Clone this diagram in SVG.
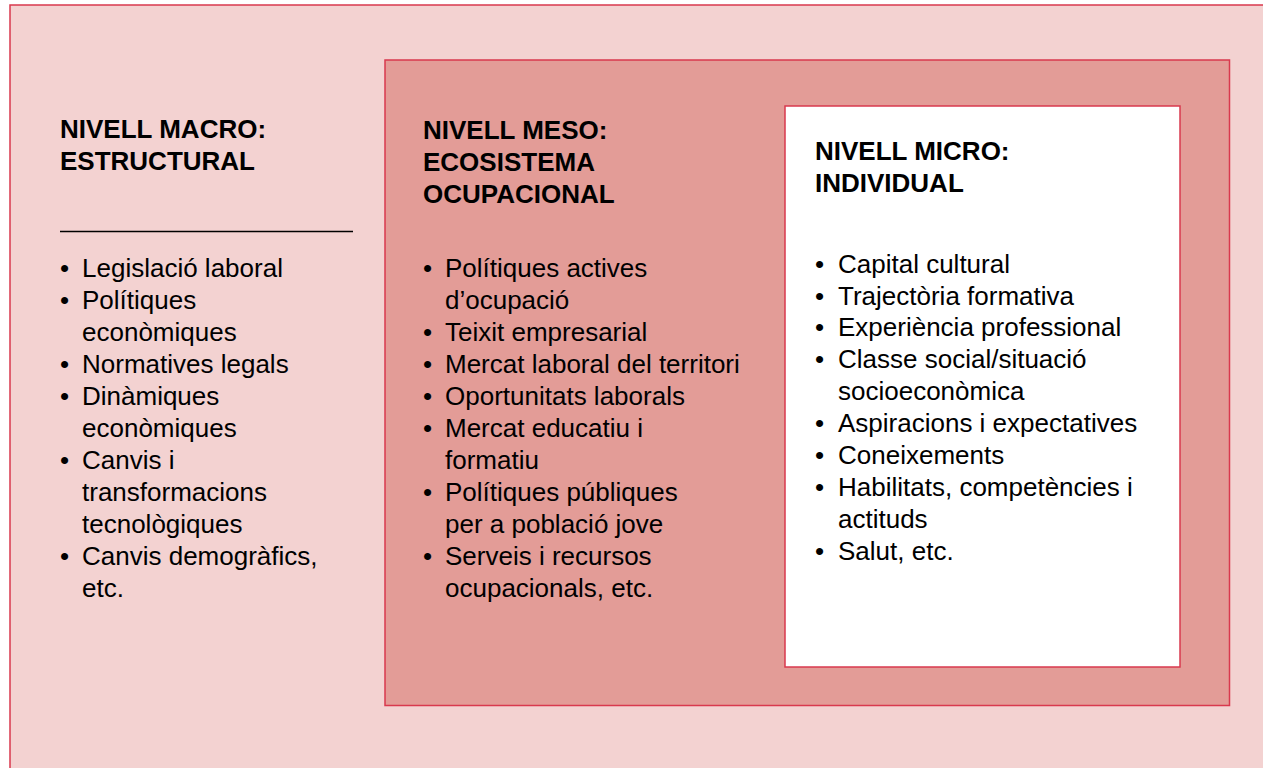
<svg xmlns="http://www.w3.org/2000/svg" width="1263" height="768" viewBox="0 0 1263 768">
<style>
.h{font-family:"Liberation Sans",Arial,sans-serif;font-weight:bold;font-size:26px;fill:#000}
.b{font-family:"Liberation Sans",Arial,sans-serif;font-size:26px;fill:#000}
.box{stroke:#D9394E;stroke-width:1.5}
</style>
<rect width="1263" height="768" fill="#ffffff"/>
<g id="macro">
<rect class="box" x="10" y="5" width="1270" height="780" fill="#F3D2D1"/>
<text class="h"><tspan x="60" y="138">NIVELL MACRO:</tspan><tspan x="60" y="170">ESTRUCTURAL</tspan></text>
<line x1="60" y1="231.5" x2="353" y2="231.5" stroke="#000" stroke-width="1.3"/>
<text class="b">
<tspan x="60" y="277">•</tspan><tspan x="82" y="277">Legislació laboral</tspan>
<tspan x="60" y="309">•</tspan><tspan x="82" y="309">Polítiques</tspan>
<tspan x="82" y="341">econòmiques</tspan>
<tspan x="60" y="373">•</tspan><tspan x="82" y="373">Normatives legals</tspan>
<tspan x="60" y="405">•</tspan><tspan x="82" y="405">Dinàmiques</tspan>
<tspan x="82" y="437">econòmiques</tspan>
<tspan x="60" y="469">•</tspan><tspan x="82" y="469">Canvis i</tspan>
<tspan x="82" y="501">transformacions</tspan>
<tspan x="82" y="533">tecnològiques</tspan>
<tspan x="60" y="565">•</tspan><tspan x="82" y="565">Canvis demogràfics,</tspan>
<tspan x="82" y="597">etc.</tspan>
</text>
</g>
<g id="meso">
<rect class="box" x="385" y="60" width="844.5" height="645.5" fill="#E39C97"/>
<text class="h"><tspan x="423" y="139">NIVELL MESO:</tspan><tspan x="423" y="171">ECOSISTEMA</tspan><tspan x="423" y="203">OCUPACIONAL</tspan></text>
<text class="b">
<tspan x="423" y="277">•</tspan><tspan x="445" y="277">Polítiques actives</tspan>
<tspan x="445" y="309">d’ocupació</tspan>
<tspan x="423" y="341">•</tspan><tspan x="445" y="341">Teixit empresarial</tspan>
<tspan x="423" y="373">•</tspan><tspan x="445" y="373">Mercat laboral del territori</tspan>
<tspan x="423" y="405">•</tspan><tspan x="445" y="405">Oportunitats laborals</tspan>
<tspan x="423" y="437">•</tspan><tspan x="445" y="437">Mercat educatiu i</tspan>
<tspan x="445" y="469">formatiu</tspan>
<tspan x="423" y="501">•</tspan><tspan x="445" y="501">Polítiques públiques</tspan>
<tspan x="445" y="533">per a població jove</tspan>
<tspan x="423" y="565">•</tspan><tspan x="445" y="565">Serveis i recursos</tspan>
<tspan x="445" y="597">ocupacionals, etc.</tspan>
</text>
</g>
<g id="micro">
<rect class="box" x="785" y="106" width="395" height="561" fill="#ffffff"/>
<text class="h"><tspan x="815" y="160">NIVELL MICRO:</tspan><tspan x="815" y="192">INDIVIDUAL</tspan></text>
<text class="b">
<tspan x="815" y="273">•</tspan><tspan x="838" y="273">Capital cultural</tspan>
<tspan x="815" y="304.5">•</tspan><tspan x="838" y="304.5">Trajectòria formativa</tspan>
<tspan x="815" y="336">•</tspan><tspan x="838" y="336">Experiència professional</tspan>
<tspan x="815" y="368">•</tspan><tspan x="838" y="368">Classe social/situació</tspan>
<tspan x="838" y="399.5">socioeconòmica</tspan>
<tspan x="815" y="431.5">•</tspan><tspan x="838" y="431.5">Aspiracions i expectatives</tspan>
<tspan x="815" y="463.5">•</tspan><tspan x="838" y="463.5">Coneixements</tspan>
<tspan x="815" y="495.5">•</tspan><tspan x="838" y="495.5">Habilitats, competències i</tspan>
<tspan x="838" y="527.5">actituds</tspan>
<tspan x="815" y="560">•</tspan><tspan x="838" y="560">Salut, etc.</tspan>
</text>
</g>
<g id="connectors"></g>
</svg>
